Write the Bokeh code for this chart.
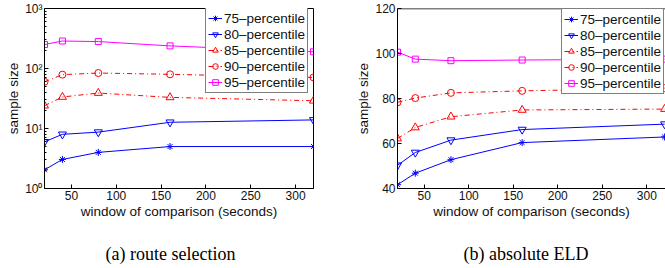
from bokeh.plotting import figure
from bokeh.models import FixedTicker, Title, Range1d, Span
from bokeh.layouts import row
from bokeh.embed import file_html
from bokeh.resources import INLINE

# ---------------- data ----------------
windows = [20, 40, 80, 160, 320]
series_labels = ["75\u2013percentile", "80\u2013percentile", "85\u2013percentile",
                 "90\u2013percentile", "95\u2013percentile"]

route_75 = [2.05, 3.05, 4.0, 5.0, 5.0]
route_80 = [6.0, 8.0, 8.7, 12.7, 13.9]
route_85 = [24.0, 33.5, 39.0, 33.0, 29.0]
route_90 = [60.0, 79.0, 84.0, 80.0, 71.0]
route_95 = [251.0, 287.0, 281.0, 238.0, 190.0]

eld_75 = [41.7, 46.8, 52.8, 60.4, 62.9]
eld_80 = [50.3, 56.0, 61.5, 66.2, 68.6]
eld_85 = [62.2, 67.1, 71.9, 74.9, 75.3]
eld_90 = [78.3, 80.2, 82.5, 83.4, 84.6]
eld_95 = [100.6, 97.5, 96.8, 97.1, 97.5]

x_ticks = [50, 100, 150, 200, 250, 300]
log_ticks = [1, 10, 100, 1000]
log_tick_labels = ["10\u2070", "10\u00b9", "10\u00b2", "10\u00b3"]
eld_ticks = [40, 60, 80, 100, 120]

x_title = "window of comparison (seconds)"
y_title = "sample size"
captions = ["(a) route selection", "(b) absolute ELD"]

# ---------------- styles ----------------
BLUE, RED, MAG = "#0000ff", "#ff0000", "#ff00ff"
styles = [
    dict(color=BLUE, dash="solid", marker="asterisk", size=7),
    dict(color=BLUE, dash="solid", marker="inverted_triangle", size=8),
    dict(color=RED, dash="5 3 1 3", marker="triangle", size=8),
    dict(color=RED, dash="5 3 1 3", marker="circle", size=7),
    dict(color=MAG, dash="solid", marker="square", size=6),
]
FONT = "Liberation Sans"


def style_axis(ax):
    ax.axis_line_color = "black"
    ax.axis_line_width = 1
    ax.major_tick_in = 4
    ax.major_tick_out = 0
    ax.minor_tick_in = 2
    ax.minor_tick_out = 0
    ax.major_tick_line_color = "black"
    ax.minor_tick_line_color = "black"
    ax.major_label_text_font = FONT
    ax.major_label_text_color = "#111111"
    ax.major_label_text_font_size = "12px"
    ax.major_label_standoff = 2
    ax.axis_label_text_font = FONT
    ax.axis_label_text_font_style = "normal"
    ax.axis_label_text_color = "#111111"
    ax.axis_label_text_font_size = "13.5px"
    ax.axis_label_standoff = 1


def add_series(p, ys):
    for y, lab, st in zip(ys, series_labels, styles):
        p.line(windows, y, line_color=st["color"], line_width=1,
               line_dash=st["dash"], legend_label=lab)
        p.scatter(windows, y, marker=st["marker"], size=st["size"],
                  line_color=st["color"], fill_color=None, line_width=1,
                  legend_label=lab)


def style_legend(p, loc):
    lg = p.legend[0]
    lg.location = loc
    lg.border_line_color = "black"
    lg.border_line_width = 1
    lg.background_fill_color = "white"
    lg.background_fill_alpha = 1
    lg.label_text_font = FONT
    lg.label_text_font_size = "13.5px"
    lg.label_text_color = "#111111"
    lg.glyph_width = 14
    lg.glyph_height = 16
    lg.label_height = 16
    lg.label_standoff = 2
    lg.spacing = 0
    lg.padding = 2
    lg.margin = 0


def add_caption(p, text, offset):
    # thin blank band between the axis title and the sub-figure caption
    gap = Title(text=" ", text_font_size="4px", standoff=14)
    p.add_layout(gap, "below")
    t = Title(text=text, align="left", offset=offset, vertical_align="top",
              text_font="Liberation Serif", text_font_size="18px",
              text_font_style="normal", text_color="black", standoff=2)
    p.add_layout(t, "below")


# ---------------- left: route selection (log) ----------------
p1 = figure(width=330, height=268, y_axis_type="log", output_backend="svg",
            toolbar_location=None, x_range=Range1d(20, 320),
            y_range=Range1d(1, 1000),
            min_border_left=44, min_border_right=17, min_border_top=8,
            min_border_bottom=80)
p1.outline_line_color = "black"
p1.xgrid.visible = False
p1.ygrid.visible = False

p1.xaxis.ticker = FixedTicker(ticks=x_ticks)
p1.yaxis.ticker = FixedTicker(ticks=log_ticks,
                              minor_ticks=[m * d for d in [1, 10, 100] for m in range(2, 10)])
p1.yaxis.major_label_overrides = {t: l for t, l in zip(log_ticks, log_tick_labels)}
p1.xaxis.axis_label = x_title
p1.yaxis.axis_label = y_title
style_axis(p1.xaxis[0])
style_axis(p1.yaxis[0])

add_series(p1, [route_75, route_80, route_85, route_90, route_95])
style_legend(p1, (161, 95))
add_caption(p1, captions[0], 61)

# ---------------- right: absolute ELD (linear) ----------------
p2 = figure(width=335, height=268, output_backend="svg", toolbar_location=None,
            x_range=Range1d(20, 321), y_range=Range1d(40, 120),
            min_border_left=67, min_border_right=0, min_border_top=8,
            min_border_bottom=80)
p2.outline_line_color = None
p2.xgrid.visible = False
p2.ygrid.visible = False

p2.xaxis.ticker = FixedTicker(ticks=x_ticks)
p2.yaxis.ticker = FixedTicker(ticks=eld_ticks)
p2.xaxis.axis_label = x_title
p2.yaxis.axis_label = y_title
style_axis(p2.xaxis[0])
style_axis(p2.yaxis[0])
p2.add_layout(Span(location=120, dimension="width", line_color="black", line_width=1.5))

add_series(p2, [eld_75, eld_80, eld_85, eld_90, eld_95])
style_legend(p2, (164, 94))
add_caption(p2, captions[1], 66)

layout = row(p1, p2, spacing=0)
open("out.html", "w").write(file_html(layout, INLINE))
